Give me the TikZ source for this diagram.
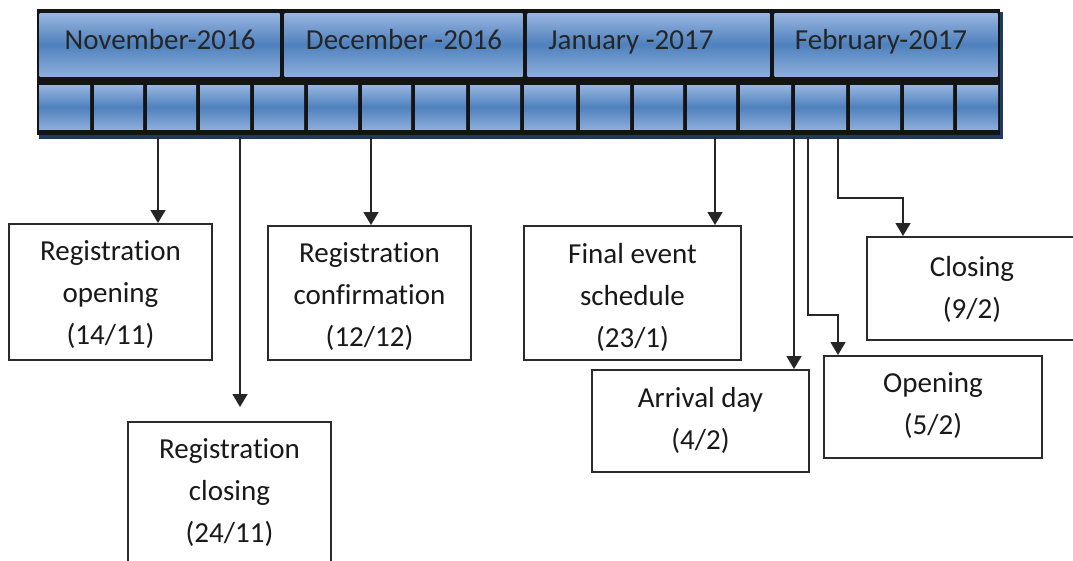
\documentclass[tikz,border=0pt]{standalone}
\usepackage{fontspec}
\setmainfont{Carlito}[Ligatures=NoCommon]
\usetikzlibrary{arrows.meta}
\definecolor{barlight}{HTML}{98B5E0}
\definecolor{barmid}{HTML}{4F81BD}
\definecolor{barshadow}{HTML}{1F3A60}
\definecolor{boxline}{HTML}{2B2B2B}
\begin{document}
\begin{tikzpicture}[x=1pt,y=-1pt,
  cellshade/.style={top color=barlight, bottom color=barlight!85!barmid, middle color=barmid},
  monthtext/.style={font=\fontsize{29}{34}\selectfont, text=black!85, inner sep=0pt, anchor=base},
  evbox/.style={draw=boxline, line width=2pt, fill=white, inner sep=0pt, align=center,
                font=\fontsize{29}{42}\selectfont, text=black!90},
  evtext/.style={font=\fontsize{29}{42}\selectfont, align=center, inner sep=0pt, text=black!90},
  arr/.style={draw=black!85, line width=1.5pt, -{Triangle[width=15pt,length=13pt]}}]
\useasboundingbox (0,0) rectangle (1073,560);
\clip (0,0) rectangle (1073,560);

% timeline bar
\fill[barshadow] (39,12) rectangle (1003,139);
\fill[black!92] (37,9) rectangle (1000,135);
\foreach \a/\b in {37/282, 282/525, 525/772, 772/1000}
  \shade[cellshade] (\a+2.5,13) rectangle (\b-2.5,76);
\foreach \a/\b in {37/92, 92/145, 145/198, 198/252, 252/306, 306/360, 360/413, 413/468, 468/522,
                   522/578, 578/632, 632/685, 685/738, 738/793, 793/848, 848/902, 902/955, 955/1000}
  \shade[cellshade] (\a+2,85) rectangle (\b-2,129);

\node[monthtext] (nov) at (160,49) {November-2016};
\node[monthtext] (dec) at (404,49) {December -2016};
\node[monthtext] (jan) at (631,49) {January -2017};
\node[monthtext] (feb) at (881,49) {February-2017};

% event boxes
\node[evbox, minimum width=203pt, minimum height=136pt] (regopen) at (110.5,292) {};
\node[evtext] (regopentxt) at (110.5,295) {Registration\\opening\\(14/11)};
\node[evbox, minimum width=203pt, minimum height=134pt] (regconf) at (369.5,293) {};
\node[evtext] (regconftxt) at (369.5,297) {Registration\\confirmation\\(12/12)};
\node[evbox, minimum width=217pt, minimum height=134pt] (final) at (632.5,293) {};
\node[evtext] (finaltxt) at (632.5,297) {Final event\\schedule\\(23/1)};
\node[evbox, minimum width=217pt, minimum height=102pt] (arrival) at (700.5,421) {};
\node[evtext] (arrivaltxt) at (700.5,420) {Arrival day\\(4/2)};
\node[evbox, minimum width=218pt, minimum height=102pt] (opening) at (933,407) {};
\node[evtext] (openingtxt) at (933,406) {Opening\\(5/2)};
\node[evbox, minimum width=217pt, minimum height=103pt] (closing) at (975.5,288.5) {};
\node[evtext] (closingtxt) at (972,289) {Closing\\(9/2)};
\node[evbox, minimum width=203pt, minimum height=180pt] (regclose) at (229.5,512) {};
\node[evtext] (regclosetxt) at (229.5,493) {Registration\\closing\\(24/11)};

% connector start points on the bar
\coordinate (s1) at (158,137);
\coordinate (s2) at (240,137);
\coordinate (s3) at (371,137);
\coordinate (s4) at (715,137);
\coordinate (s5) at (794,137);
\coordinate (s6) at (808,137);
\coordinate (s7) at (838,137);
\coordinate (k6) at (838,315);
\coordinate (k7) at (903,198);

\draw[arr] (s1) -- (s1 |- regopen.north);
\draw[arr, shorten >=14pt] (s2) -- (s2 |- regclose.north);
\draw[arr] (s3) -- (s3 |- regconf.north);
\draw[arr] (s4) -- (s4 |- final.north);
\draw[arr] (s5) -- (s5 |- arrival.north);
\draw[arr] (s6) |- (k6) -- (k6 |- opening.north);
\draw[arr] (s7) |- (k7) -- (k7 |- closing.north);
\end{tikzpicture}
\end{document}
